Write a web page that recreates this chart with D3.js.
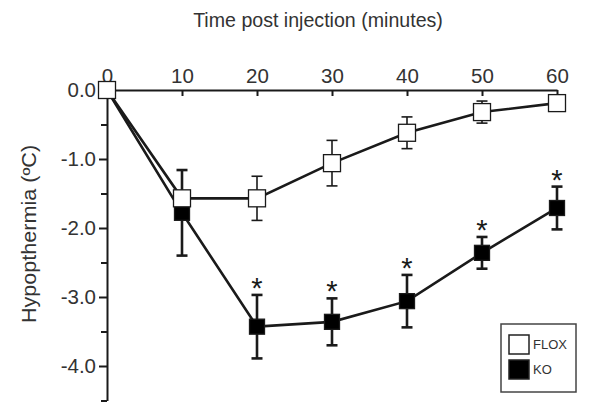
<!DOCTYPE html>
<html><head><meta charset="utf-8">
<script src="https://cdn.jsdelivr.net/npm/d3@7"></script>
<style>body{margin:0;background:#fff;} svg{display:block;font-family:"Liberation Sans",Arial,sans-serif;}</style>
</head><body>
<svg id="chart" width="600" height="410"></svg>
<script>
const times = [0, 10, 20, 30, 40, 50, 60];
const floxMean = [0.0, -1.57, -1.57, -1.06, -0.62, -0.32, -0.19];
const floxSE   = [0.0, 0.08, 0.32, 0.33, 0.23, 0.16, 0.1];
const koMean   = [0.0, -1.78, -3.43, -3.36, -3.06, -2.36, -1.71];
const koSE     = [0.0, 0.62, 0.46, 0.34, 0.38, 0.23, 0.31];
const koSignificant = [false, false, true, true, true, true, true];
const xTicks = [0, 10, 20, 30, 40, 50, 60];
const yTicks = [0, -1, -2, -3, -4];
const yMinorTicks = [-0.5, -1.5, -2.5, -3.5, -4.5];
const seriesNames = ["FLOX", "KO"];

const svg = d3.select("#chart");
const x = d3.scaleLinear().domain([0, 60]).range([107, 557]);
const y = d3.scaleLinear().domain([0, -4.5]).range([90, 400.5]);
const ink = "#1a1a1a", txt = "#333";

// axes
const xAxis = d3.axisTop(x).tickValues(xTicks).tickSizeInner(-6).tickSizeOuter(0).tickPadding(7).tickFormat(d3.format("d"));
const gx = svg.append("g").attr("transform", `translate(0,${y(0)})`).call(xAxis);
gx.select(".domain").attr("stroke", ink).attr("stroke-width", 2);
gx.selectAll(".tick line").attr("stroke", ink).attr("stroke-width", 2);
gx.selectAll(".tick text").attr("font-size", 20.5).attr("fill", txt).attr("font-family", null);

const yAxis = d3.axisLeft(y).tickValues(yTicks).tickSize(8).tickSizeOuter(0).tickPadding(3).tickFormat(d => d.toFixed(1));
const gy = svg.append("g").attr("transform", `translate(${x(0)},0)`).call(yAxis);
gy.select(".domain").attr("stroke", ink).attr("stroke-width", 2);
gy.selectAll(".tick line").attr("stroke", ink).attr("stroke-width", 2);
gy.selectAll(".tick text").attr("font-size", 20.5).attr("fill", txt).attr("font-family", null);
const yAxisMinor = d3.axisLeft(y).tickValues(yMinorTicks).tickSize(6).tickSizeOuter(0).tickFormat("");
const gym = svg.append("g").attr("transform", `translate(${x(0)},0)`).call(yAxisMinor);
gym.select(".domain").remove();
gym.selectAll(".tick line").attr("stroke", ink).attr("stroke-width", 2);

// titles
svg.append("text").attr("x", 318).attr("y", 27).attr("text-anchor", "middle")
  .attr("font-size", 19.6).attr("fill", txt).text("Time post injection (minutes)");
svg.append("text").attr("transform", "translate(36,234) rotate(-90) scale(1.08,1)").attr("text-anchor", "middle")
  .attr("font-size", 20).attr("fill", txt).text("Hypopthermia (ºC)");

function drawSeries(means, ses, fill, size, lw, ebw) {
  const data = times.map((t, i) => ({t, m: means[i], se: ses[i], i}));
  const g = svg.append("g");
  g.append("path").datum(data)
    .attr("d", d3.line().x(d => x(d.t)).y(d => y(d.m)))
    .attr("fill", "none").attr("stroke", ink).attr("stroke-width", lw);
  const eb = g.selectAll(".eb").data(data.filter(d => d.se > 0)).join("g");
  eb.append("line").attr("x1", d => x(d.t)).attr("x2", d => x(d.t))
    .attr("y1", d => y(d.m + d.se)).attr("y2", d => y(d.m - d.se))
    .attr("stroke", ink).attr("stroke-width", ebw);
  [1, -1].forEach(s => {
    eb.append("line").attr("x1", d => x(d.t) - 5.5).attr("x2", d => x(d.t) + 5.5)
      .attr("y1", d => y(d.m + s * d.se)).attr("y2", d => y(d.m + s * d.se))
      .attr("stroke", ink).attr("stroke-width", ebw);
  });
  g.selectAll("rect").data(data).join("rect")
    .attr("x", d => x(d.t) - size / 2).attr("y", d => y(d.m) - size / 2)
    .attr("width", size).attr("height", size)
    .attr("fill", fill).attr("stroke", ink).attr("stroke-width", 1.3);
  return data;
}
const koData = drawSeries(koMean, koSE, "#000", 15, 2.6, 2.6);
drawSeries(floxMean, floxSE, "#fff", 17, 2.6, 1.6);

// significance asterisks
const astSize = 29;
svg.append("g").selectAll("text").data(koData.filter(d => koSignificant[d.i])).join("text")
  .attr("x", d => x(d.t)).attr("y", d => y(d.m + d.se) - 13.5 + 0.57 * astSize)
  .attr("text-anchor", "middle").attr("font-size", astSize).attr("fill", ink).text("*");

// legend
const lg = svg.append("g");
lg.append("rect").attr("x", 501).attr("y", 324).attr("width", 75).attr("height", 68)
  .attr("fill", "#fff").attr("stroke", "#444").attr("stroke-width", 1.5);
seriesNames.forEach((n, i) => {
  lg.append("rect").attr("x", 509).attr("y", 335 + i * 25).attr("width", 20).attr("height", 19)
    .attr("fill", i === 0 ? "#fff" : "#000").attr("stroke", "#222").attr("stroke-width", 1.5);
  lg.append("text").attr("x", 533).attr("y", 349 + i * 25).attr("font-size", 13)
    .attr("fill", txt).text(n);
});
</script>
</body></html>
